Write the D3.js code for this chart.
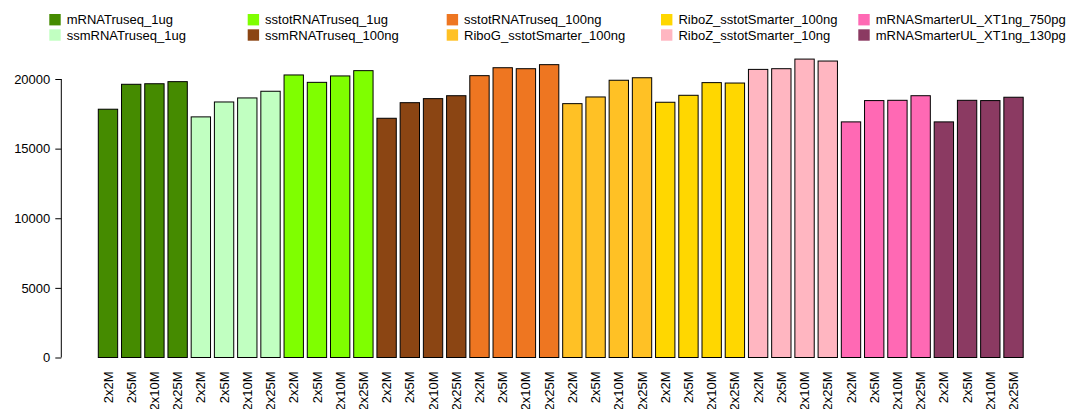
<!DOCTYPE html>
<html>
<head>
<meta charset="utf-8">
<script src="https://cdn.jsdelivr.net/npm/d3@7/dist/d3.min.js"></script>
<style>
  html, body { margin: 0; padding: 0; background: #fff; }
  svg { display: block; font-family: "Liberation Sans", Arial, Helvetica, sans-serif; }
</style>
</head>
<body>
<svg id="chart" width="1084" height="409"></svg>
<script>
// ---- data ----
const groups = [
  "mRNATruseq_1ug", "ssmRNATruseq_1ug", "sstotRNATruseq_1ug", "ssmRNATruseq_100ng",
  "sstotRNATruseq_100ng", "RiboG_sstotSmarter_100ng", "RiboZ_sstotSmarter_100ng",
  "RiboZ_sstotSmarter_10ng", "mRNASmarterUL_XT1ng_750pg", "mRNASmarterUL_XT1ng_130pg"
];
const groupColors = [
  "#458B00", "#C1FFC1", "#7FFF00", "#8B4513", "#EE7621",
  "#FFC125", "#FFD700", "#FFB6C1", "#FF69B4", "#8B3A62"
];
const depths = ["2x2M", "2x5M", "2x10M", "2x25M"];
const values = [
  [17830, 19620, 19660, 19810],
  [17280, 18350, 18640, 19120],
  [20290, 19760, 20220, 20600],
  [17180, 18300, 18590, 18800],
  [20240, 20810, 20740, 21030],
  [18230, 18710, 19910, 20090],
  [18330, 18830, 19740, 19710],
  [20690, 20740, 21430, 21290],
  [16920, 18450, 18470, 18800],
  [16920, 18470, 18450, 18690]
];
const yTicks = [0, 5000, 10000, 15000, 20000];

// ---- flatten to bars ----
const bars = [];
groups.forEach((g, gi) => {
  depths.forEach((d, di) => {
    bars.push({ group: g, gi: gi, depth: d, value: values[gi][di], idx: bars.length });
  });
});

// ---- layout ----
const svg = d3.select("#chart");
const space = 0.2, barW = 1;
const nBars = bars.length;
const xMaxUnits = space + nBars * (barW + space) - space; // right edge of last bar
const x = d3.scaleLinear().domain([space, xMaxUnits]).range([98.3, 1023.2]);
const y = d3.scaleLinear().domain([0, 20000]).range([357.5, 79]);

// bars
svg.append("g").selectAll("rect")
  .data(bars)
  .enter().append("rect")
  .attr("x", d => x(space + d.idx * (barW + space)))
  .attr("width", d => x(space + d.idx * (barW + space) + barW) - x(space + d.idx * (barW + space)))
  .attr("y", d => y(d.value))
  .attr("height", d => y(0) - y(d.value))
  .attr("fill", d => groupColors[d.gi])
  .attr("stroke", "#000")
  .attr("stroke-width", 1);

// y axis
const yAxis = d3.axisLeft(y).tickValues(yTicks).tickSize(6).tickPadding(5).tickFormat(d3.format("d"));
const ya = svg.append("g").attr("transform", "translate(61.3,0)").call(yAxis);
ya.select(".domain").attr("d", `M0,${y(0)}V${y(20000)}`).attr("stroke", "#000");
ya.selectAll(".tick line").attr("stroke", "#000");
ya.selectAll(".tick text").attr("font-size", 13).attr("fill", "#000")
  .attr("font-family", "Liberation Sans, Arial, sans-serif");

// x labels (rotated)
svg.append("g").selectAll("text")
  .data(bars)
  .enter().append("text")
  .attr("transform", d => {
    const cx = x(space + d.idx * (barW + space) + barW / 2);
    return `translate(${cx},371.5) rotate(-90)`;
  })
  .attr("text-anchor", "end")
  .attr("dy", "0.35em")
  .attr("font-size", 13)
  .attr("fill", "#000")
  .text(d => d.depth);

// legend (2 rows, column-major)
const legendCols = [49.3, 247.7, 446.7, 661, 858.3];
const legendRows = [14, 29.3];
const leg = svg.append("g");
groups.forEach((g, i) => {
  const col = Math.floor(i / 2), row = i % 2;
  const lx = legendCols[col], ly = legendRows[row];
  leg.append("rect").attr("x", lx).attr("y", ly).attr("width", 11.4).attr("height", 11.4)
    .attr("fill", groupColors[i]);
  leg.append("text").attr("x", lx + 17.4).attr("y", ly + 5.7).attr("dy", "0.35em")
    .attr("font-size", 13).attr("fill", "#000").text(g);
});
</script>
</body>
</html>
